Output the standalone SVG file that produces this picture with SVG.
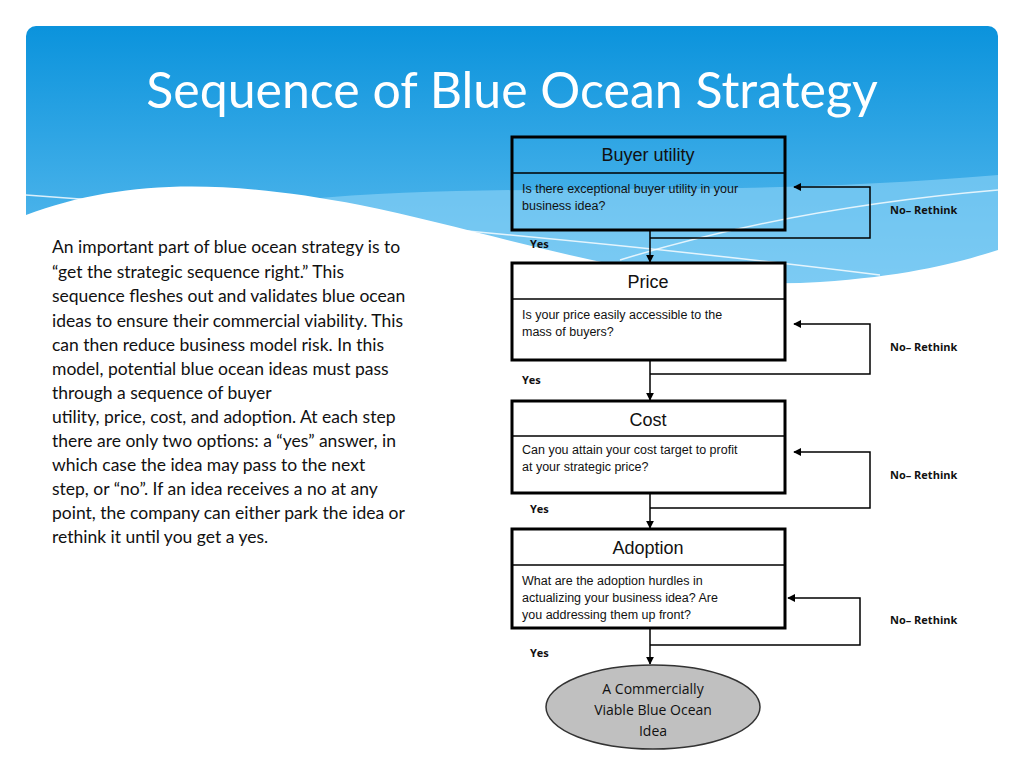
<svg xmlns="http://www.w3.org/2000/svg" width="1024" height="768" viewBox="0 0 1024 768">
<defs>
<linearGradient id="bg" x1="0" y1="0" x2="0" y2="1"><stop offset="0" stop-color="#0b93dc"/><stop offset="1" stop-color="#6cc4f2"/></linearGradient>
<marker id="ah" viewBox="0 0 10 10" refX="9" refY="5" markerWidth="8" markerHeight="8" markerUnits="userSpaceOnUse" orient="auto"><path d="M0,0L10,5L0,10Z" fill="#000"/></marker>
<style>
.box{fill:none;stroke:#000;stroke-width:3}
.div{stroke:#000;stroke-width:1.5}
.hd{font-family:"Liberation Sans",Arial,sans-serif;font-size:18px;text-anchor:middle;fill:#111}
.bd{font-family:"Liberation Sans",Arial,sans-serif;font-size:12.5px;fill:#111}
.lb{font-family:"Open Sans",sans-serif;font-size:11px;font-weight:bold;fill:#111}
.cn{fill:none;stroke:#000;stroke-width:1.5}
.para{font-family:Lato,"Open Sans",sans-serif;font-size:17.5px;fill:#111}
</style>
</defs>
<rect width="1024" height="768" fill="#fff"/>
<rect x="26" y="26" width="972" height="300" rx="10" fill="url(#bg)"/>
<path d="M300,200 C500,180 700,200 998,175 L998,300 L300,300Z" fill="#8fd3f7" opacity="0.6"/>
<path d="M26,215 C120,180 220,178 360,205 C520,238 660,292 820,282 C910,276 960,262 998,250 L998,768 L26,768 Z" fill="#fff"/>
<path d="M26,195 C300,215 600,240 880,275" fill="none" stroke="#fff" stroke-width="1.5" opacity="0.8"/>
<path d="M620,260 C750,220 880,200 998,190" fill="none" stroke="#fff" stroke-width="1.5" opacity="0.8"/>
<text x="512" y="108" text-anchor="middle" font-family="Lato,'Open Sans',sans-serif" font-size="50" fill="#fff">Sequence of Blue Ocean Strategy</text>
<g id="text">
<text class="para" x="52" y="253">An important part of blue ocean strategy is to</text>
<text class="para" x="52" y="278">“get the strategic sequence right.”  This</text>
<text class="para" x="52" y="302">sequence fleshes out and validates blue ocean</text>
<text class="para" x="52" y="327">ideas to ensure their commercial viability.  This</text>
<text class="para" x="52" y="351">can then reduce business model risk.  In this</text>
<text class="para" x="52" y="375">model, potential blue ocean ideas must pass</text>
<text class="para" x="52" y="399">through a sequence of buyer</text>
<text class="para" x="52" y="423">utility, price, cost, and adoption.  At each step</text>
<text class="para" x="52" y="447">there are only two options: a “yes” answer, in</text>
<text class="para" x="52" y="471">which case the idea may pass to the next</text>
<text class="para" x="52" y="495">step, or “no”.  If an idea receives a no at any</text>
<text class="para" x="52" y="519">point, the company can either park the idea or</text>
<text class="para" x="52" y="543">rethink it until you get a yes.</text>
</g>
<g id="connectors">
<path class="cn" d="M650,230V262" marker-end="url(#ah)"/>
<path class="cn" d="M650,238H870V187H794" marker-end="url(#ah)"/>
<path class="cn" d="M650,360V400" marker-end="url(#ah)"/>
<path class="cn" d="M650,374H870V324H794" marker-end="url(#ah)"/>
<path class="cn" d="M650,493V528" marker-end="url(#ah)"/>
<path class="cn" d="M650,508H870V452H794" marker-end="url(#ah)"/>
<path class="cn" d="M650,628V664" marker-end="url(#ah)"/>
<path class="cn" d="M650,645H860V598H788" marker-end="url(#ah)"/>
<text class="lb" x="890" y="214">No– Rethink</text>
<text class="lb" x="890" y="351">No– Rethink</text>
<text class="lb" x="890" y="479">No– Rethink</text>
<text class="lb" x="890" y="624">No– Rethink</text>
<text class="lb" x="530" y="248">Yes</text>
<text class="lb" x="522" y="384">Yes</text>
<text class="lb" x="530" y="513">Yes</text>
<text class="lb" x="530" y="657">Yes</text>
</g>
<g id="buyer">
<rect class="box" x="512" y="137" width="273" height="93"/><line class="div" x1="512" y1="173" x2="785" y2="173"/>
<text class="hd" x="648" y="161">Buyer utility</text>
<text class="bd" x="522" y="193">Is there exceptional buyer utility in your</text>
<text class="bd" x="522" y="210">business idea?</text>
</g>
<g id="price">
<rect x="512" y="263" width="273" height="97" fill="#fff"/>
<rect class="box" x="512" y="263" width="273" height="97"/><line class="div" x1="512" y1="299" x2="785" y2="299"/>
<text class="hd" x="648" y="288">Price</text>
<text class="bd" x="522" y="319">Is your price easily accessible to the</text>
<text class="bd" x="522" y="336">mass of buyers?</text>
</g>
<g id="cost">
<rect class="box" x="512" y="401" width="273" height="92"/><line class="div" x1="512" y1="436" x2="785" y2="436"/>
<text class="hd" x="648" y="426">Cost</text>
<text class="bd" x="522" y="454">Can you attain your cost target to profit</text>
<text class="bd" x="522" y="471">at your strategic price?</text>
</g>
<g id="adoption">
<rect class="box" x="512" y="529" width="273" height="99"/><line class="div" x1="512" y1="565" x2="785" y2="565"/>
<text class="hd" x="648" y="554">Adoption</text>
<text class="bd" x="522" y="585">What are the adoption hurdles in</text>
<text class="bd" x="522" y="602">actualizing your business idea?  Are</text>
<text class="bd" x="522" y="619">you addressing them up front?</text>
</g>
<g id="result">
<ellipse cx="653" cy="707" rx="107" ry="42" fill="#c0c0c0" stroke="#333" stroke-width="1.5"/>
<text x="653" y="694" text-anchor="middle" font-family="'Open Sans',sans-serif" font-size="14" fill="#111">A Commercially</text>
<text x="653" y="715" text-anchor="middle" font-family="'Open Sans',sans-serif" font-size="14" fill="#111">Viable Blue Ocean</text>
<text x="653" y="736" text-anchor="middle" font-family="'Open Sans',sans-serif" font-size="14" fill="#111">Idea</text>
</g>
</svg>
